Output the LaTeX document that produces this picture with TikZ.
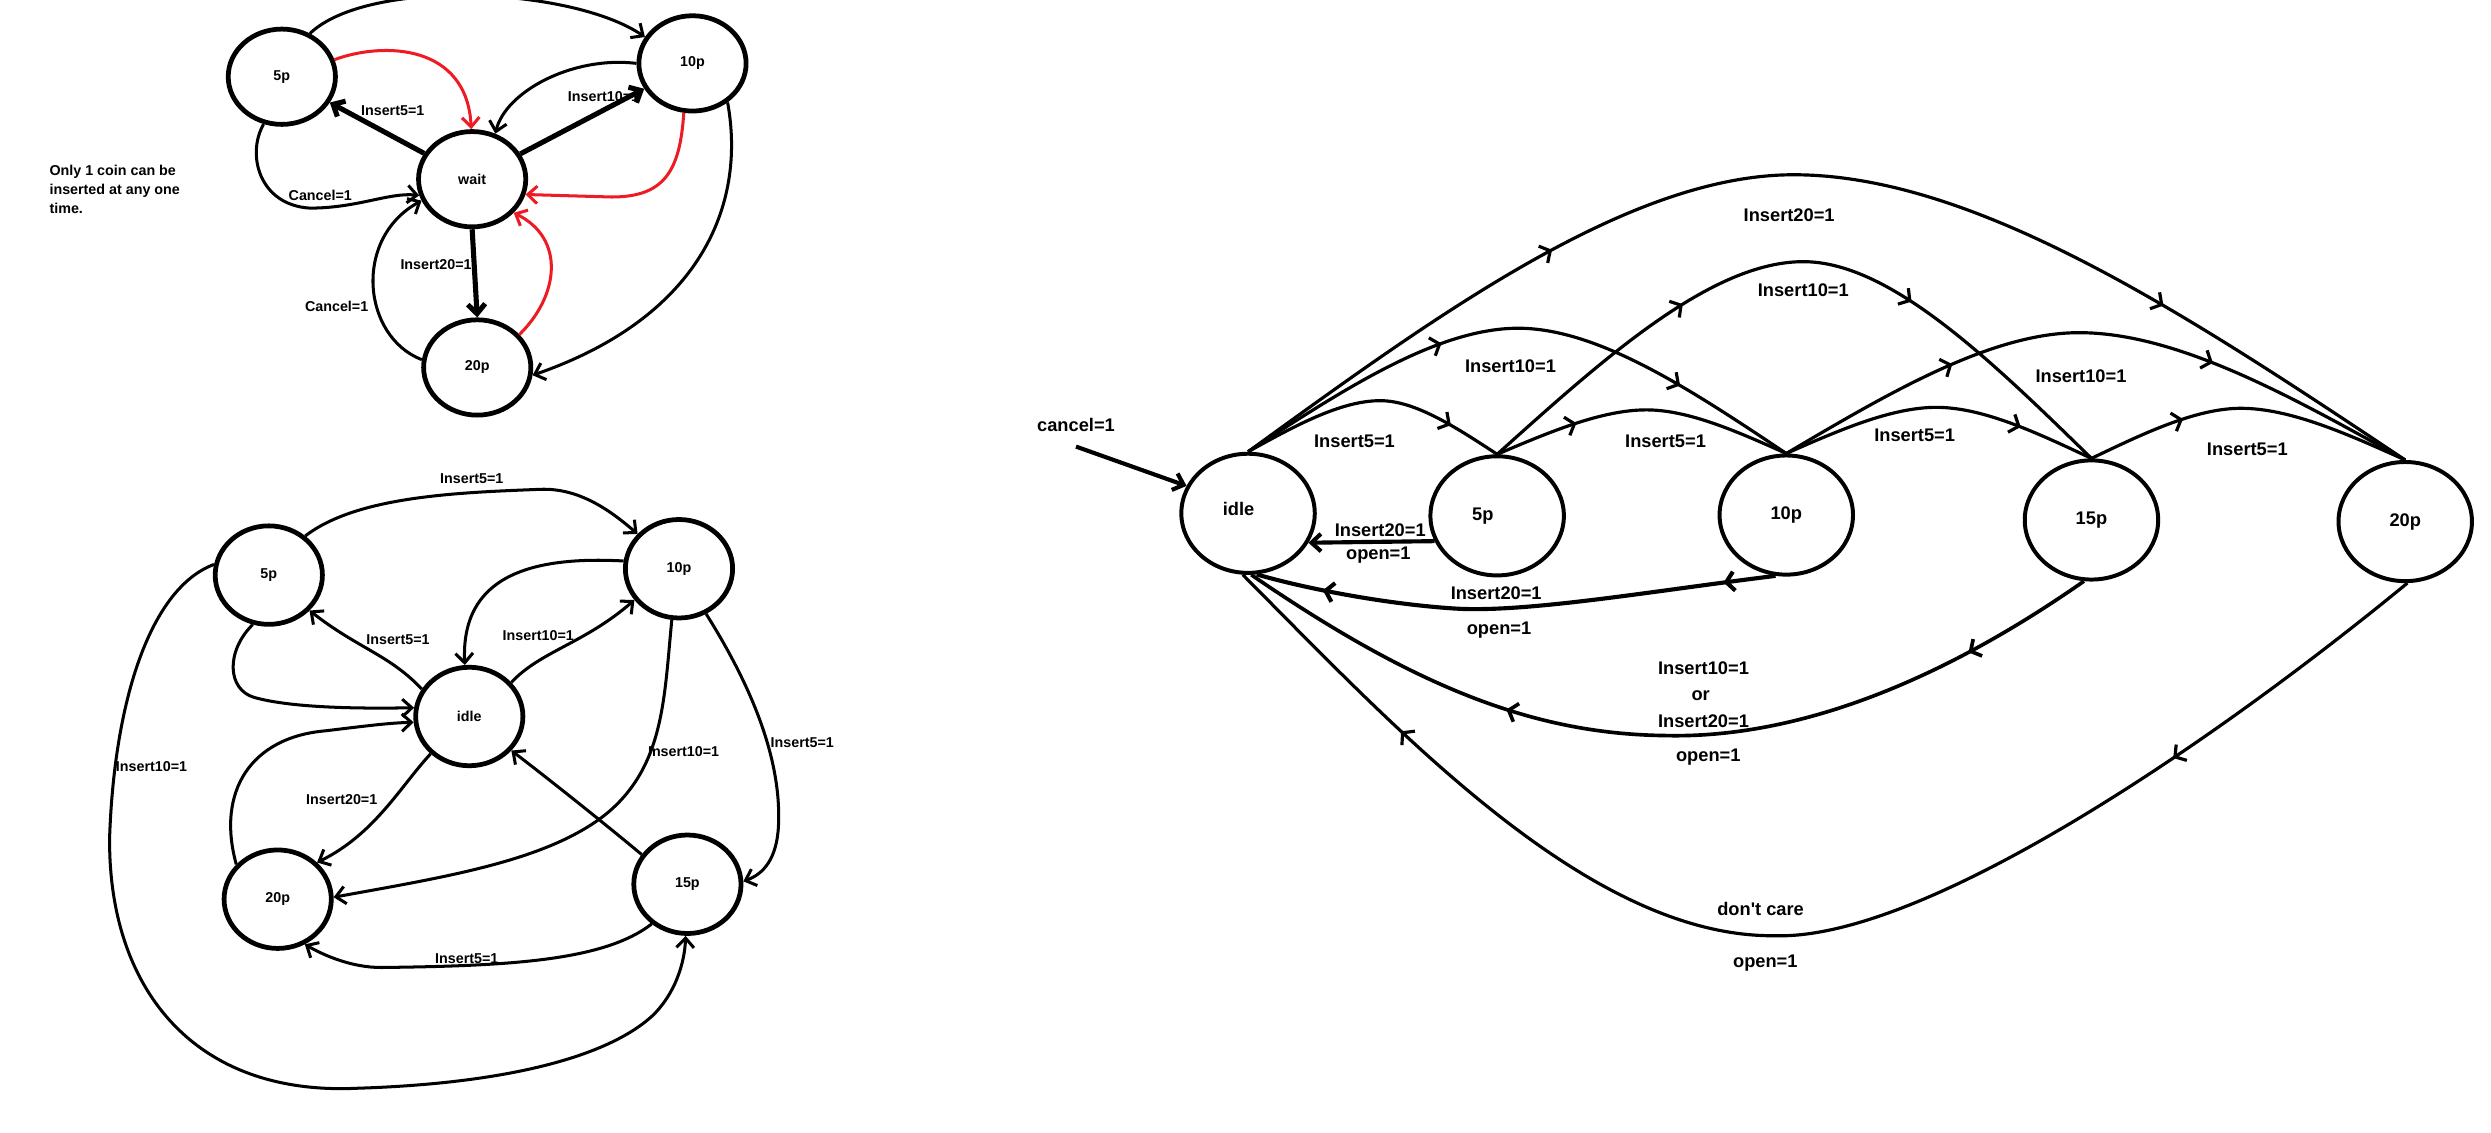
\documentclass[tikz,border=0pt]{standalone}
\usepackage{fontspec}
\setmainfont{Liberation Sans}
\usetikzlibrary{shapes.geometric,arrows.meta,decorations.markings}
\definecolor{penred}{RGB}{237,28,36}
\begin{document}
\begin{tikzpicture}[x=1pt,y=-1pt,
  lbl/.style={font=\bfseries\fontsize{9}{11.75}\selectfont, inner sep=0pt},
  rlbl/.style={font=\bfseries\fontsize{11.5}{13}\selectfont, inner sep=0pt},
  smallstate/.style={draw, ellipse, line width=3pt, minimum width=67.5pt,
    minimum height=60pt, inner sep=0pt, font=\bfseries\fontsize{9}{11}\selectfont},
  bigstate/.style={draw, ellipse, line width=2.5pt, minimum width=84pt,
    minimum height=75pt, inner sep=0pt, font=\bfseries\fontsize{11.5}{13}\selectfont},
  tip/.style={-{Straight Barb[length=6pt,width=11pt]}},
  linkpen/.style={line width=1.9pt, tip},
  spokepen/.style={line width=3.2pt, tip},
  redpen/.style={line width=1.9pt, draw=penred, tip},
  arcpen/.style={line width=2pt},
  rheavy/.style={line width=2.6pt},
  markat/.style={postaction={decorate, decoration={markings,
    mark=at position #1 with {\arrow{Straight Barb[length=5pt,width=12pt]}}}}},
]
\useasboundingbox (0,0) rectangle (1568,713);
\fill[white] (0,0) rectangle (1568,713);

% ---------- coin machine with a wait state ----------
\node[smallstate] (tlfive) at (177.4,48.3) {5p};
\node[smallstate] (tlten) at (435.9,39.9) {10p};
\node[smallstate] (tlwait) at (297.2,112.8) {wait};
\node[smallstate] (tltwenty) at (300.4,231.3) {20p};

\node[lbl, align=left, anchor=north west] (note) at (31,104) {Only 1 coin can be\\inserted at any one\\time.};

\draw[spokepen] (tlwait) -- (tlfive);
\draw[spokepen] (tlwait) -- (tlten);
\draw[spokepen] (tlwait.south) -- (tltwenty.north);

\draw[linkpen] (tlfive.57) .. controls (232,-14) and (360,-8) .. (tlten.151);
\draw[linkpen] (tlfive.249) .. controls (155,97) and (163,129) .. (195,131)
  .. controls (225,131) and (245,121) .. (tlwait.197);
\draw[linkpen] (tlten.180) .. controls (360,35) and (318,58) .. (tlwait.63);
\draw[linkpen] (tltwenty.172) .. controls (228,212) and (222,150) .. (tlwait.203);
\draw[linkpen] (tlten.312) .. controls (470,130) and (440,200) .. (tltwenty.352);

\draw[redpen] (tlfive.18) .. controls (242,26) and (294,28) .. (tlwait.91);
\draw[redpen] (tlten.260) .. controls (428,108) and (418,124) .. (385,124) -- (tlwait.344);
\draw[redpen] (tltwenty.38) .. controls (352,186) and (356,150) .. (tlwait.321);

\node[lbl] (tla) at (247.2,69.9) {Insert5=1};
\node[lbl] (tlb) at (379.9,60.8) {Insert10=1};
\node[lbl] (tlc) at (201.6,122.7) {Cancel=1};
\node[lbl] (tld) at (274.5,166.4) {Insert20=1};
\node[lbl] (tle) at (211.9,193) {Cancel=1};

% ---------- coin machine around an idle state ----------
\node[smallstate, minimum height=62pt] (blfive) at (169.2,362) {5p};
\node[smallstate, minimum height=62pt] (blten) at (427.4,358) {10p};
\node[smallstate, minimum height=62pt] (blidle) at (295.4,451) {idle};
\node[smallstate, minimum height=62pt] (bltwenty) at (174.8,566) {20p};
\node[smallstate, minimum height=62pt] (blfifteen) at (432.7,556.6) {15p};

\draw[linkpen] (blfive.47) .. controls (225,312) and (290,310) .. (340,308)
  .. controls (365,307) and (385,322) .. (blten.140);
\draw[linkpen] (blidle.150) .. controls (245,412) and (225,408) .. (blfive.319);
\draw[linkpen] (blfive.252) .. controls (142,410) and (143,434) .. (160,439)
  .. controls (185,446) and (230,446) .. (blidle.171);
\draw[linkpen] (blidle.39) .. controls (340,410) and (368,405) .. (blten.215);
\draw[linkpen] (blten.172) .. controls (335,350) and (290,362) .. (blidle.95);
\draw[linkpen] (bltwenty.140) .. controls (136,498) and (158,464) .. (205,460)
  .. controls (230,457) and (245,455) .. (blidle.186);
\draw[linkpen] (blidle.224) .. controls (252,495) and (236,525) .. (bltwenty.43);
\draw[linkpen] (blten.262) .. controls (418,440) and (418,482) .. (382,512)
  .. controls (345,542) and (280,552) .. (bltwenty.2);
\draw[linkpen] (blten.301) .. controls (475,435) and (492,480) .. (490,520)
  .. controls (489,540) and (481,550) .. (blfifteen.3);
\draw[linkpen] (blfifteen.147) .. controls (385,522) and (345,490) .. (blidle.321);
\draw[linkpen] (blfifteen.228) .. controls (380,605) and (320,608) .. (240,609)
  .. controls (222,609) and (205,602) .. (bltwenty.301);
\draw[linkpen] (blfive.169) .. controls (95,370) and (72,440) .. (69,527)
  .. controls (68,620) and (120,690) .. (225,685)
  .. controls (320,682) and (382,665) .. (410,640)
  .. controls (425,626) and (431,606) .. (blfifteen.268);

\node[lbl] (bla) at (297,301.4) {Insert5=1};
\node[lbl] (blb) at (250.5,402.8) {Insert5=1};
\node[lbl] (blc) at (338.8,400) {Insert10=1};
\node[lbl] (bld) at (95.4,482.5) {Insert10=1};
\node[lbl] (ble) at (215.1,503.4) {Insert20=1};
\node[lbl] (blf) at (430.3,472.8) {Insert10=1};
\node[lbl] (blg) at (505,467.2) {Insert5=1};
\node[lbl] (blh) at (293.8,603.4) {Insert5=1};

% ---------- linear machine ----------
\node[bigstate] (ridle) at (785.6,323.1) {\raisebox{5pt}{idle}\hspace*{12pt}};
\node[bigstate] (rfive) at (942.4,324.7) {5p\hspace*{18pt}};
\node[bigstate] (rten) at (1124.4,324.2) {10p};
\node[bigstate] (rfifteen) at (1316.5,327.3) {15p};
\node[bigstate] (rtwenty) at (1514,328.3) {\raisebox{-3pt}{20p}};

% arcs over the top
\draw[arcpen, markat=0.28, markat=0.78] (ridle.north) .. controls (905.8,197.2) and (1026,110) .. (1129,110)
  .. controls (1244.5,110) and (1379.25,199.75) .. (rtwenty.north);
\draw[arcpen, markat=0.37, markat=0.79] (ridle.north) .. controls (845.1,245.5) and (904.6,206.6) .. (955.6,206.6)
  .. controls (1006.2,206.6) and (1065.3,245.95) .. (rten.north);
\draw[arcpen, markat=0.8] (ridle.north) .. controls (814.7,268.25) and (843.8,252.2) .. (868.8,252.2)
  .. controls (890.9,252.2) and (916.6,269.05) .. (rfive.north);
\draw[arcpen, markat=0.33, markat=0.67] (rfive.north) .. controls (1009.8,225.3) and (1077.3,164.7) .. (1135.1,164.7)
  .. controls (1189.5,164.7) and (1253,226.6) .. (rfifteen.north);
\draw[arcpen, markat=0.28] (rfive.north) .. controls (975.3,271.95) and (1008.2,258) .. (1036.4,258)
  .. controls (1062.8,258) and (1093.6,271.65) .. (rten.north);
\draw[arcpen, markat=0.28, markat=0.68] (rten.north) .. controls (1188.9,247.35) and (1253.4,209.4) .. (1308.7,209.4)
  .. controls (1370.3,209.4) and (1442.1,249.45) .. (rtwenty.north);
\draw[arcpen, markat=0.76] (rten.north) .. controls (1157.5,270.85) and (1190.5,256.4) .. (1218.9,256.4)
  .. controls (1248.2,256.4) and (1282.3,272.45) .. (rfifteen.north);
\draw[arcpen, markat=0.3] (rfifteen.north) .. controls (1349.4,272.75) and (1382.3,257) .. (1410.5,257)
  .. controls (1441.55,257) and (1477.8,273.25) .. (rtwenty.north);

% returns to idle
\draw[rheavy, tip] (rfive.202) -- (ridle.334);
\draw[rheavy, markat=0.1, markat=0.87] (rten.260) .. controls (1040,372) and (960,386) .. (915,383)
  .. controls (870,380) and (820,370) .. (ridle.278);
\draw[arcpen, line width=2.3pt, markat=0.15, markat=0.68] (rfifteen.263) .. controls (1220,430) and (1130,465) .. (1048,463)
  .. controls (965,462) and (890,432) .. (ridle.273);
\draw[arcpen, markat=0.21, markat=0.84] (rtwenty.272) .. controls (1390,470) and (1210,592) .. (1117,589)
  .. controls (1000,590) and (880,460) .. (ridle.265);

\coordinate (cin) at (677.3,281.1);
\draw[rheavy, tip] (cin) -- (ridle.156);

\node[rlbl] (ra) at (677.3,267.5) {cancel=1};
\node[rlbl] (rb) at (1126.2,135.3) {Insert20=1};
\node[rlbl] (rc) at (1135.1,182.5) {Insert10=1};
\node[rlbl] (rd) at (950.8,230.8) {Insert10=1};
\node[rlbl] (re) at (1309.9,237.1) {Insert10=1};
\node[rlbl] (rf) at (852.6,277.6) {Insert5=1};
\node[rlbl] (rg) at (1048.4,277.6) {Insert5=1};
\node[rlbl] (rh) at (1205.2,273.8) {Insert5=1};
\node[rlbl] (ri) at (1414.6,282.6) {Insert5=1};
\node[rlbl] (rj) at (868.8,333.6) {Insert20=1};
\node[rlbl] (rk) at (867.6,349.3) {open=1};
\node[rlbl] (rl) at (941.8,373.5) {Insert20=1};
\node[rlbl] (rm) at (943.6,396.6) {open=1};
\node[rlbl] (rn) at (1072.3,420.7) {Insert10=1};
\node[rlbl] (ro) at (1070.5,437.9) {or};
\node[rlbl] (rp) at (1072.3,454.2) {Insert20=1};
\node[rlbl] (rq) at (1075.3,476.3) {open=1};
\node[rlbl] (rr) at (1108.2,572.4) {don\textquotesingle t care};
\node[rlbl] (rs) at (1111.2,606.4) {open=1};
\end{tikzpicture}
\end{document}
